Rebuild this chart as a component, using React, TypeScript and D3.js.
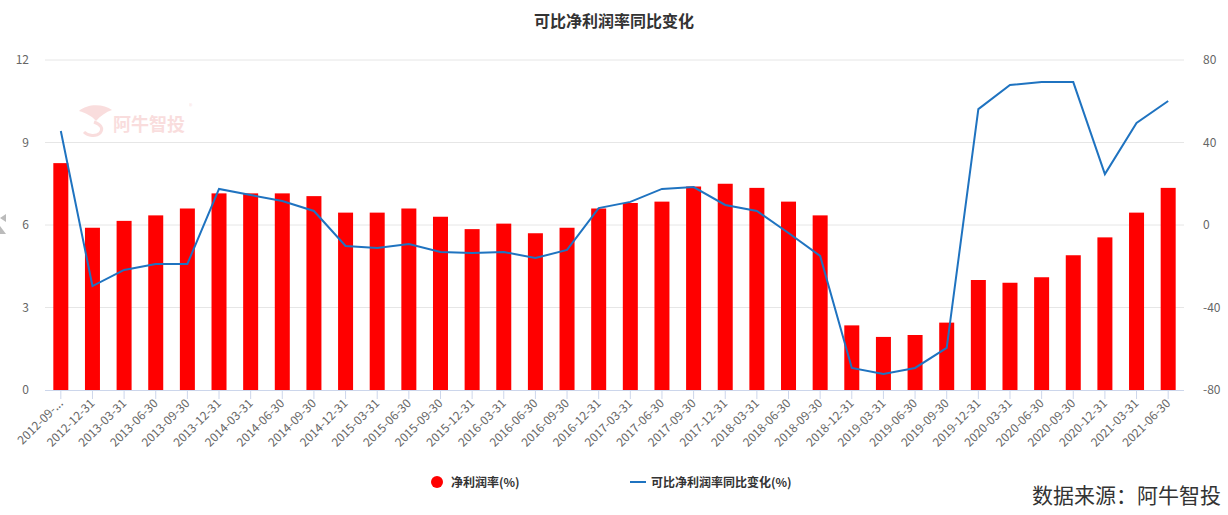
import React from "react";
import * as d3 from "d3";

const categories = [
  "2012-09-30", "2012-12-31", "2013-03-31", "2013-06-30", "2013-09-30", "2013-12-31",
  "2014-03-31", "2014-06-30", "2014-09-30", "2014-12-31", "2015-03-31", "2015-06-30",
  "2015-09-30", "2015-12-31", "2016-03-31", "2016-06-30", "2016-09-30", "2016-12-31",
  "2017-03-31", "2017-06-30", "2017-09-30", "2017-12-31", "2018-03-31", "2018-06-30",
  "2018-09-30", "2018-12-31", "2019-03-31", "2019-06-30", "2019-09-30", "2019-12-31",
  "2020-03-31", "2020-06-30", "2020-09-30", "2020-12-31", "2021-03-31", "2021-06-30",
];

// 净利润率(%)
const margin = [
  8.25, 5.9, 6.15, 6.35, 6.6, 7.15, 7.15, 7.15, 7.05, 6.45, 6.45, 6.6,
  6.3, 5.85, 6.05, 5.7, 5.9, 6.6, 6.8, 6.85, 7.4, 7.5, 7.35, 6.85,
  6.35, 2.35, 1.93, 2.0, 2.45, 4.0, 3.9, 4.1, 4.9, 5.55, 6.45, 7.35,
];

// 可比净利润率同比变化(%)
const yoy = [
  45.6, -29.6, -21.8, -18.9, -18.9, 17.5, 14.5, 11.6, 6.8, -10.2, -11.2, -9.2,
  -13.1, -13.6, -13.1, -16, -12.1, 8.2, 11.2, 17.5, 18.4, 9.7, 6.8, -3.9,
  -15, -69.3, -72.2, -69.3, -59.6, 56.2, 67.9, 69.3, 69.3, 24.7, 49.5, 60.1,
];

const leftTicks = [0, 3, 6, 9, 12];
const rightTicks = [-80, -40, 0, 40, 80];

const W = 1228;
const H = 515;
const plot = { left: 45, right: 1184, top: 60, bottom: 390 };

const App = () => {
  const x = d3
    .scaleBand()
    .domain(categories)
    .range([plot.left, plot.right]);
  const yL = d3.scaleLinear().domain([0, 12]).range([plot.bottom, plot.top]);
  const yR = d3.scaleLinear().domain([-80, 80]).range([plot.bottom, plot.top]);
  const barW = 15;
  const cx = (c) => (x(c) || 0) + x.bandwidth() / 2;

  const line = d3
    .line()
    .x((d, i) => cx(categories[i]))
    .y((d) => yR(d));

  const font = "'Microsoft YaHei', 'Noto Sans CJK SC', 'Noto Sans', sans-serif";

  return (
    <svg width={W} height={H} style={{ display: "block", position: "absolute", left: 0, top: 0 }} fontFamily={font}>
      <rect width={W} height={H} fill="#fff" />
      <text x={W / 2} y={27} textAnchor="middle" fontSize={16} fontWeight="bold" fill="#333">
        可比净利润率同比变化
      </text>

      {/* watermark */}
      <g opacity={0.16} fill="#e03030">
        <path d="M79,111 C88,103 104,104 112,110 C106,112 100,116 96,121 C92,116 86,113 79,111 Z" />
        <path d="M94,122 C100,124 104,128 100,133 C96,137 88,136 84,132" fill="none" stroke="#e03030" strokeWidth={3} />
        <text x={113} y={131} fontSize={18} fontWeight="bold">阿牛智投</text>
      </g>
      <text x={189} y={109} fontSize={7} fill="#e03030" opacity={0.16}>®</text>

      {/* left edge artifact */}
      <path d="M0,218 L6,214 L6,222 Z M0,226 L6,234 L0,234 Z" fill="#bbb" />

      {leftTicks.map((t) => (
        <g key={"l" + t}>
          {t !== 0 && (
            <line x1={plot.left} x2={plot.right} y1={yL(t)} y2={yL(t)} stroke="#e6e6e6" />
          )}
          <text x={29} y={yL(t) + 4} textAnchor="end" fontSize={12} fill="#666">
            {t}
          </text>
        </g>
      ))}
      {rightTicks.map((t) => (
        <text key={"r" + t} x={1203} y={yR(t) + 4} fontSize={12} fill="#666">
          {t}
        </text>
      ))}

      {categories.map((c, i) => (
        <rect
          key={c}
          x={cx(c) - barW / 2}
          y={yL(margin[i])}
          width={barW}
          height={plot.bottom - yL(margin[i])}
          fill="#ff0000"
        />
      ))}

      <line x1={plot.left} x2={plot.right} y1={plot.bottom + 0.5} y2={plot.bottom + 0.5} stroke="#ccd6eb" />
      {categories.map((c, i) => (
        <g key={"t" + c}>
          <line x1={cx(c)} x2={cx(c)} y1={plot.bottom} y2={plot.bottom + 9} stroke="#ccd6eb" />
          <text
            transform={`translate(${cx(c) + 3},${plot.bottom + 14}) rotate(-45)`}
            textAnchor="end"
            fontSize={12}
            fill="#666"
          >
            {i === 0 ? "2012-09-..." : c}
          </text>
        </g>
      ))}

      <path d={line(yoy) || ""} fill="none" stroke="#1f73c0" strokeWidth={2} />

      {/* legend */}
      <circle cx={437} cy={482} r={6} fill="#ff0000" />
      <text x={451} y={486.5} fontSize={12} fontWeight="bold" fill="#333">
        净利润率(%)
      </text>
      <line x1={630} x2={646} y1={482} y2={482} stroke="#1f73c0" strokeWidth={2} />
      <text x={651} y={486.5} fontSize={12} fontWeight="bold" fill="#333">
        可比净利润率同比变化(%)
      </text>

      <text x={1221} y={503} textAnchor="end" fontSize={21} fill="#333">
        数据来源：阿牛智投
      </text>
    </svg>
  );
};

export default App;
